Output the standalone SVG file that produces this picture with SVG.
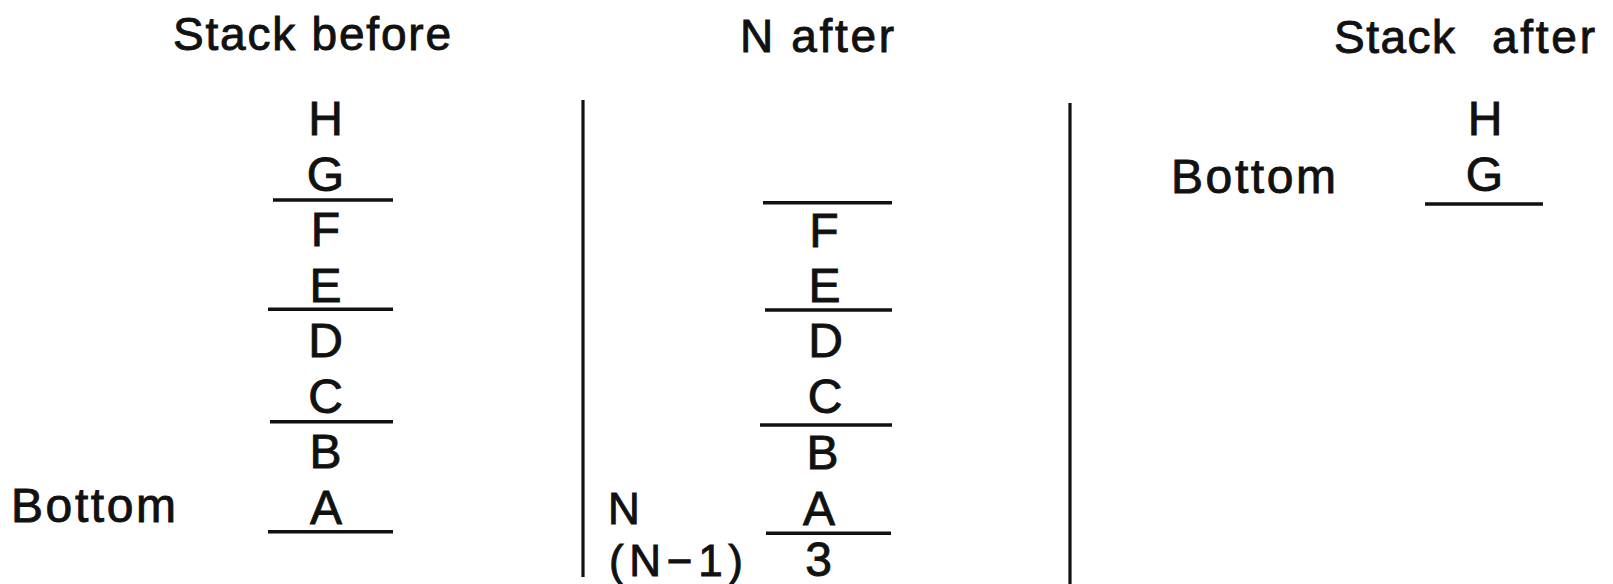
<svg xmlns="http://www.w3.org/2000/svg" width="1613" height="584" viewBox="0 0 1613 584">
  <style>
    text { font-family: "Liberation Sans", Arial, sans-serif; fill: #111; stroke: #111; stroke-width: 0.9px; }
    .head { font-size: 46px; }
    .cell { font-size: 48px; text-anchor: middle; }
    .lbl { font-size: 48px; }
    .nl { font-size: 44px; }
    .rule { stroke: #111; stroke-width: 3.5; stroke-linecap: butt; fill: none; }
    .div { stroke: #111; stroke-width: 3.2; fill: none; }
  </style>
  <rect width="1613" height="584" fill="#fff"/>

  <g id="headings">
    <text class="head" x="173" y="50" textLength="278" lengthAdjust="spacing">Stack before</text>
    <text class="head" x="740" y="52" textLength="154" lengthAdjust="spacing">N after</text>
    <text class="head" y="53"><tspan x="1334" textLength="121" lengthAdjust="spacing">Stack</tspan><tspan x="1492" textLength="103" lengthAdjust="spacing">after</tspan></text>
  </g>

  <g id="dividers">
    <line class="div" x1="583" y1="100" x2="583" y2="577"/>
    <line class="div" x1="1070" y1="103" x2="1070" y2="584"/>
  </g>

  <g id="stack-before">
    <text class="cell" x="325.5" y="135">H</text>
    <text class="cell" x="325.5" y="190.5">G</text>
    <text class="cell" x="325.5" y="246">F</text>
    <text class="cell" x="325.5" y="301.5">E</text>
    <text class="cell" x="325.5" y="357">D</text>
    <text class="cell" x="325.5" y="412.5">C</text>
    <text class="cell" x="325.5" y="467.5">B</text>
    <text class="cell" x="326" y="523.5">A</text>
    <text class="lbl" x="11" y="522" textLength="165" lengthAdjust="spacing">Bottom</text>
    <line class="rule" x1="273" y1="200" x2="393" y2="200"/>
    <line class="rule" x1="268" y1="309.3" x2="393" y2="309.3"/>
    <line class="rule" x1="270" y1="421.7" x2="393" y2="421.7"/>
    <line class="rule" x1="268" y1="531.7" x2="393" y2="531.7"/>
  </g>

  <g id="n-after">
    <text class="cell" x="824" y="246.7">F</text>
    <text class="cell" x="824.5" y="301.7">E</text>
    <text class="cell" x="825.5" y="356.7">D</text>
    <text class="cell" x="825" y="412.5">C</text>
    <text class="cell" x="822.5" y="469">B</text>
    <text class="cell" x="819" y="525">A</text>
    <text class="cell" x="818.5" y="576">3</text>
    <text class="nl" x="608" y="524">N</text>
    <text class="nl" x="609" y="576" textLength="134" lengthAdjust="spacing">(N−1)</text>
    <line class="rule" x1="763" y1="202.7" x2="892" y2="202.7"/>
    <line class="rule" x1="765" y1="310" x2="892" y2="310"/>
    <line class="rule" x1="760" y1="425" x2="892" y2="425"/>
    <line class="rule" x1="766" y1="533.3" x2="891" y2="533.3"/>
  </g>

  <g id="stack-after">
    <text class="cell" x="1485" y="135">H</text>
    <text class="cell" x="1484.5" y="190.5">G</text>
    <text class="lbl" x="1171" y="193" textLength="165" lengthAdjust="spacing">Bottom</text>
    <line class="rule" x1="1425" y1="204" x2="1543" y2="204"/>
  </g>
</svg>
